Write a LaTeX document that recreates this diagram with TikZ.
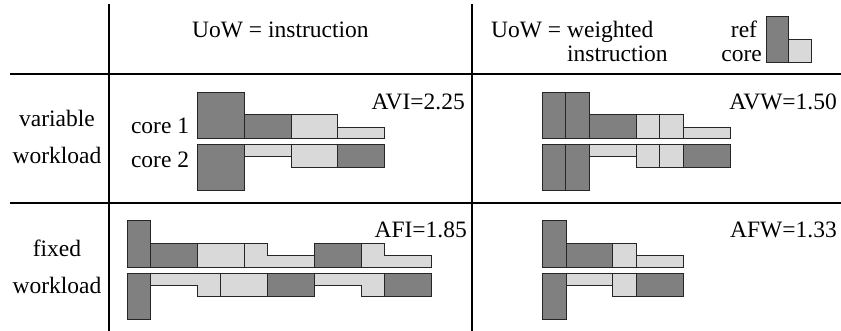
\documentclass[tikz,border=0pt]{standalone}
\usepackage{fontspec}
\setmainfont{Liberation Serif}
\definecolor{dk}{HTML}{808080}
\definecolor{lt}{HTML}{D9D9D9}
\tikzset{
  dkbox/.style={fill=dk,draw=black!85,line width=0.8pt},
  ltbox/.style={fill=lt,draw=black!85,line width=0.8pt},
  gridline/.style={line width=1.2pt,black},
  lbl/.style={font=\fontsize{23.5}{26}\selectfont,inner sep=0pt}
}
\begin{document}
\begin{tikzpicture}[x=1pt,y=-1pt]
\useasboundingbox (0,0) rectangle (841,331);
% grid
\draw[gridline] (10,74) -- (841,74);
\draw[gridline] (10,203) -- (841,203);
\draw[gridline] (109,4) -- (109,331);
\draw[gridline] (472,4) -- (472,331);
% header texts
\node[lbl,anchor=base west] (h1) at (192,38) {UoW = instruction};
\node[lbl,anchor=base west] (h2) at (491,38) {UoW = weighted};
\node[lbl,anchor=base west] (h2b) at (567,62) {instruction};
\node[lbl,anchor=base] (ref) at (744,38) {ref};
\node[lbl,anchor=base east] (refc) at (762,62) {core};
\filldraw[dkbox] (766,16) rectangle (788.3,62.5);
\filldraw[ltbox] (788.3,39.3) rectangle (811.7,62.5);
% row labels
\node[lbl,anchor=base] (r1a) at (57,127) {variable};
\node[lbl,anchor=base] (r1b) at (57,164) {workload};
\node[lbl,anchor=base] (r2a) at (57,257) {fixed};
\node[lbl,anchor=base] (r2b) at (57,294) {workload};
\node[lbl,anchor=base east] (c1) at (189.3,133.3) {core 1};
\node[lbl,anchor=base east] (c2) at (189.3,167.3) {core 2};
% metrics
\node[lbl,anchor=base east] (avi) at (465,109.3) {AVI=2.25};
\node[lbl,anchor=base east] (avw) at (837,109.3) {AVW=1.50};
\node[lbl,anchor=base east] (afi) at (467,238) {AFI=1.85};
\node[lbl,anchor=base east] (afw) at (837,238) {AFW=1.33};
% AVI core 1
\filldraw[dkbox] (197.3,92) rectangle (244.3,138.3);
\filldraw[dkbox] (244.3,114.7) rectangle (291,138.3);
\filldraw[ltbox] (291,114.7) rectangle (337.7,138.3);
\filldraw[ltbox] (337.7,127.3) rectangle (384.7,138.3);
% AVI core 2
\filldraw[dkbox] (197.3,144.3) rectangle (244.3,190.7);
\filldraw[ltbox] (244.3,144.3) rectangle (291,156);
\filldraw[ltbox] (291,144.3) rectangle (337.7,167.7);
\filldraw[dkbox] (337.7,144.3) rectangle (384.7,167.7);
% AVW core 1
\filldraw[dkbox] (542.3,92) rectangle (565.7,138.3);
\filldraw[dkbox] (565.7,92) rectangle (589.3,138.3);
\filldraw[dkbox] (589.3,114.7) rectangle (636,138.3);
\filldraw[ltbox] (636,114.7) rectangle (659.7,138.3);
\filldraw[ltbox] (659.7,114.7) rectangle (683,138.3);
\filldraw[ltbox] (683,127.3) rectangle (730,138.3);
% AVW core 2
\filldraw[dkbox] (542.3,144.3) rectangle (565.7,190.7);
\filldraw[dkbox] (565.7,144.3) rectangle (589.3,190.7);
\filldraw[ltbox] (589.3,144.3) rectangle (636,156);
\filldraw[ltbox] (636,144.3) rectangle (659.7,167.7);
\filldraw[ltbox] (659.7,144.3) rectangle (683,167.7);
\filldraw[dkbox] (683,144.3) rectangle (730,167.7);
% AFI core 1
\filldraw[dkbox] (127.3,220.9) rectangle (150.7,267.3);
\filldraw[dkbox] (150.7,243.7) rectangle (197.3,267.3);
\filldraw[ltbox] (197.3,243.7) rectangle (244.3,267.3);
\filldraw[ltbox] (244.3,267.3) -- (244.3,243.7) -- (267.7,243.7) -- (267.7,255.7) -- (314.3,255.7) -- (314.3,267.3) -- cycle;
\filldraw[dkbox] (314.3,243.7) rectangle (361,267.3);
\filldraw[ltbox] (361,267.3) -- (361,243.7) -- (384.7,243.7) -- (384.7,255.7) -- (431.3,255.7) -- (431.3,267.3) -- cycle;
% AFI core 2
\filldraw[dkbox] (127.3,273.3) rectangle (150.7,319.7);
\filldraw[ltbox] (150.7,273.3) -- (220.7,273.3) -- (220.7,296.8) -- (197.3,296.8) -- (197.3,285) -- (150.7,285) -- cycle;
\filldraw[ltbox] (220.7,273.3) rectangle (267.7,296.8);
\filldraw[dkbox] (267.7,273.3) rectangle (314.3,296.8);
\filldraw[ltbox] (314.3,273.3) -- (384.7,273.3) -- (384.7,296.8) -- (361,296.8) -- (361,285) -- (314.3,285) -- cycle;
\filldraw[dkbox] (384.7,273.3) rectangle (431.3,296.8);
% AFW core 1
\filldraw[dkbox] (542.3,220.9) rectangle (566,267.3);
\filldraw[dkbox] (566,243.7) rectangle (612.7,267.3);
\filldraw[ltbox] (612.7,243.7) rectangle (636.3,267.3);
\filldraw[ltbox] (636.3,255.7) rectangle (683,267.3);
% AFW core 2
\filldraw[dkbox] (542.3,273.3) rectangle (566,319.7);
\filldraw[ltbox] (566,273.3) rectangle (612.7,285);
\filldraw[ltbox] (612.7,273.3) rectangle (636.3,296.8);
\filldraw[dkbox] (636.3,273.3) rectangle (683,296.8);
\end{tikzpicture}
\end{document}
